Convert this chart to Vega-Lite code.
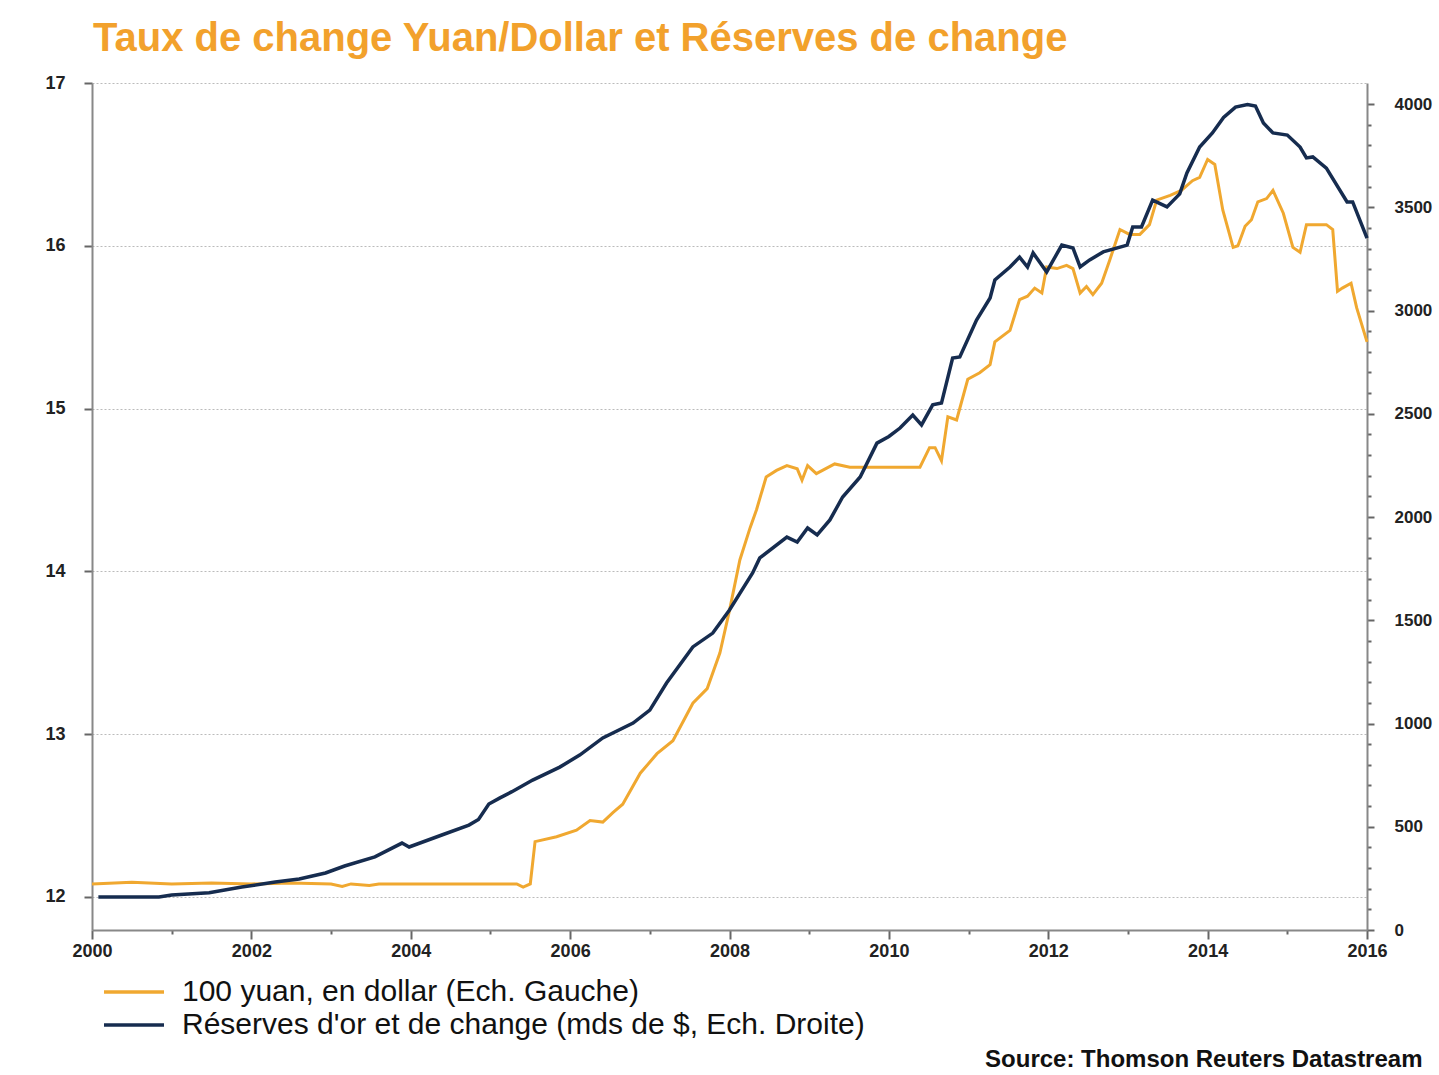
{
  "$schema": "https://vega.github.io/schema/vega-lite/v6.json",
  "width": 1275,
  "height": 847,
  "autosize": {"type": "none"},
  "padding": {"left": 92, "top": 83, "right": 72, "bottom": 145},
  "background": "white",
  "config": {
    "view": {"stroke": null},
    "font": "Liberation Sans"
  },
  "title": {
    "text": "Taux de change Yuan/Dollar et Réserves de change",
    "anchor": "start",
    "frame": "group",
    "font": "Liberation Sans",
    "fontSize": 40,
    "fontWeight": "bold",
    "color": "#F2A12C",
    "baseline": "alphabetic",
    "offset": 33,
    "dx": 1,
    "dy": 50
  },
  "datasets": {
    "yuan": [
      {"t": 2000.0, "v": 12.08}, {"t": 2000.5, "v": 12.09}, {"t": 2001.0, "v": 12.08}, {"t": 2001.5, "v": 12.085},
      {"t": 2002.0, "v": 12.08}, {"t": 2002.5, "v": 12.085}, {"t": 2003.0, "v": 12.08}, {"t": 2003.14, "v": 12.065},
      {"t": 2003.25, "v": 12.08}, {"t": 2003.48, "v": 12.07}, {"t": 2003.6, "v": 12.08}, {"t": 2004.0, "v": 12.08},
      {"t": 2004.5, "v": 12.08}, {"t": 2005.0, "v": 12.08}, {"t": 2005.33, "v": 12.08}, {"t": 2005.41, "v": 12.06},
      {"t": 2005.5, "v": 12.08}, {"t": 2005.56, "v": 12.34}, {"t": 2005.83, "v": 12.37}, {"t": 2006.08, "v": 12.41},
      {"t": 2006.25, "v": 12.47}, {"t": 2006.41, "v": 12.46}, {"t": 2006.54, "v": 12.52}, {"t": 2006.66, "v": 12.57},
      {"t": 2006.88, "v": 12.76}, {"t": 2007.09, "v": 12.88}, {"t": 2007.29, "v": 12.96}, {"t": 2007.54, "v": 13.19},
      {"t": 2007.72, "v": 13.28}, {"t": 2007.88, "v": 13.5}, {"t": 2008.0, "v": 13.76}, {"t": 2008.13, "v": 14.07},
      {"t": 2008.26, "v": 14.27}, {"t": 2008.34, "v": 14.38}, {"t": 2008.46, "v": 14.58}, {"t": 2008.59, "v": 14.62},
      {"t": 2008.72, "v": 14.65}, {"t": 2008.85, "v": 14.63}, {"t": 2008.91, "v": 14.56}, {"t": 2008.98, "v": 14.65},
      {"t": 2009.09, "v": 14.6}, {"t": 2009.32, "v": 14.66}, {"t": 2009.51, "v": 14.64}, {"t": 2010.0, "v": 14.64},
      {"t": 2010.39, "v": 14.64}, {"t": 2010.51, "v": 14.76}, {"t": 2010.58, "v": 14.76}, {"t": 2010.66, "v": 14.68},
      {"t": 2010.74, "v": 14.95}, {"t": 2010.85, "v": 14.93}, {"t": 2010.99, "v": 15.18}, {"t": 2011.14, "v": 15.22},
      {"t": 2011.27, "v": 15.27}, {"t": 2011.33, "v": 15.41}, {"t": 2011.52, "v": 15.48}, {"t": 2011.64, "v": 15.67},
      {"t": 2011.74, "v": 15.69}, {"t": 2011.83, "v": 15.74}, {"t": 2011.92, "v": 15.71}, {"t": 2011.98, "v": 15.87},
      {"t": 2012.11, "v": 15.86}, {"t": 2012.23, "v": 15.88}, {"t": 2012.31, "v": 15.86}, {"t": 2012.4, "v": 15.71},
      {"t": 2012.48, "v": 15.75}, {"t": 2012.56, "v": 15.7}, {"t": 2012.67, "v": 15.77}, {"t": 2012.77, "v": 15.91},
      {"t": 2012.9, "v": 16.1}, {"t": 2013.02, "v": 16.07}, {"t": 2013.15, "v": 16.07}, {"t": 2013.27, "v": 16.13},
      {"t": 2013.36, "v": 16.28}, {"t": 2013.53, "v": 16.31}, {"t": 2013.67, "v": 16.34}, {"t": 2013.81, "v": 16.4},
      {"t": 2013.9, "v": 16.42}, {"t": 2014.0, "v": 16.53}, {"t": 2014.09, "v": 16.5}, {"t": 2014.19, "v": 16.22},
      {"t": 2014.32, "v": 15.99}, {"t": 2014.38, "v": 16.0}, {"t": 2014.47, "v": 16.12}, {"t": 2014.55, "v": 16.16},
      {"t": 2014.63, "v": 16.27}, {"t": 2014.74, "v": 16.29}, {"t": 2014.82, "v": 16.34}, {"t": 2014.95, "v": 16.2},
      {"t": 2015.07, "v": 15.99}, {"t": 2015.16, "v": 15.96}, {"t": 2015.24, "v": 16.13}, {"t": 2015.49, "v": 16.13},
      {"t": 2015.57, "v": 16.1}, {"t": 2015.63, "v": 15.72}, {"t": 2015.69, "v": 15.74}, {"t": 2015.8, "v": 15.77},
      {"t": 2015.87, "v": 15.62}, {"t": 2016.0, "v": 15.41}
    ],
    "reserves": [
      {"t": 2000.08, "v": 160}, {"t": 2000.84, "v": 160}, {"t": 2001.0, "v": 170}, {"t": 2001.47, "v": 180},
      {"t": 2001.88, "v": 208}, {"t": 2002.3, "v": 232}, {"t": 2002.6, "v": 247}, {"t": 2002.93, "v": 276},
      {"t": 2003.17, "v": 310}, {"t": 2003.55, "v": 354}, {"t": 2003.89, "v": 421}, {"t": 2003.98, "v": 402},
      {"t": 2004.39, "v": 460}, {"t": 2004.73, "v": 508}, {"t": 2004.85, "v": 535}, {"t": 2004.98, "v": 610},
      {"t": 2005.12, "v": 640}, {"t": 2005.27, "v": 670}, {"t": 2005.53, "v": 726}, {"t": 2005.87, "v": 789},
      {"t": 2006.12, "v": 847}, {"t": 2006.41, "v": 930}, {"t": 2006.79, "v": 1002}, {"t": 2007.0, "v": 1065},
      {"t": 2007.21, "v": 1196}, {"t": 2007.54, "v": 1371}, {"t": 2007.79, "v": 1438}, {"t": 2008.0, "v": 1550},
      {"t": 2008.29, "v": 1729}, {"t": 2008.38, "v": 1802}, {"t": 2008.72, "v": 1903}, {"t": 2008.85, "v": 1879},
      {"t": 2008.98, "v": 1947}, {"t": 2009.1, "v": 1913}, {"t": 2009.26, "v": 1986}, {"t": 2009.42, "v": 2097},
      {"t": 2009.64, "v": 2194}, {"t": 2009.85, "v": 2358}, {"t": 2010.0, "v": 2390}, {"t": 2010.14, "v": 2431},
      {"t": 2010.3, "v": 2494}, {"t": 2010.41, "v": 2446}, {"t": 2010.55, "v": 2543}, {"t": 2010.66, "v": 2552},
      {"t": 2010.8, "v": 2770}, {"t": 2010.89, "v": 2775}, {"t": 2011.1, "v": 2954}, {"t": 2011.27, "v": 3061},
      {"t": 2011.33, "v": 3148}, {"t": 2011.52, "v": 3211}, {"t": 2011.64, "v": 3259}, {"t": 2011.74, "v": 3211},
      {"t": 2011.81, "v": 3279}, {"t": 2011.98, "v": 3187}, {"t": 2012.17, "v": 3317}, {"t": 2012.31, "v": 3303},
      {"t": 2012.4, "v": 3211}, {"t": 2012.52, "v": 3245}, {"t": 2012.69, "v": 3284}, {"t": 2012.99, "v": 3317},
      {"t": 2013.06, "v": 3405}, {"t": 2013.17, "v": 3405}, {"t": 2013.31, "v": 3535}, {"t": 2013.49, "v": 3502},
      {"t": 2013.65, "v": 3565}, {"t": 2013.74, "v": 3666}, {"t": 2013.9, "v": 3792}, {"t": 2014.06, "v": 3860},
      {"t": 2014.2, "v": 3935}, {"t": 2014.35, "v": 3985}, {"t": 2014.5, "v": 3998}, {"t": 2014.6, "v": 3990},
      {"t": 2014.7, "v": 3908}, {"t": 2014.82, "v": 3860}, {"t": 2015.0, "v": 3850}, {"t": 2015.16, "v": 3792},
      {"t": 2015.24, "v": 3739}, {"t": 2015.32, "v": 3744}, {"t": 2015.49, "v": 3690}, {"t": 2015.75, "v": 3526},
      {"t": 2015.82, "v": 3526}, {"t": 2016.0, "v": 3351}
    ]
  },
  "layer": [
    {
      "data": {"name": "yuan"},
      "mark": {"type": "line", "strokeWidth": 3, "interpolate": "linear"},
      "encoding": {
        "x": {
          "field": "t", "type": "quantitative",
          "scale": {"domain": [2000, 2016], "nice": false, "zero": false},
          "axis": {
            "values": [2000,2000.25,2000.5,2000.75,2001,2001.25,2001.5,2001.75,2002,2002.25,2002.5,2002.75,2003,2003.25,2003.5,2003.75,2004,2004.25,2004.5,2004.75,2005,2005.25,2005.5,2005.75,2006,2006.25,2006.5,2006.75,2007,2007.25,2007.5,2007.75,2008,2008.25,2008.5,2008.75,2009,2009.25,2009.5,2009.75,2010,2010.25,2010.5,2010.75,2011,2011.25,2011.5,2011.75,2012,2012.25,2012.5,2012.75,2013,2013.25,2013.5,2013.75,2014,2014.25,2014.5,2014.75,2015,2015.25,2015.5,2015.75,2016],
            "format": "d",
            "labelExpr": "datum.value % 2 == 0 ? datum.label : ''",
            "labelOverlap": false,
            "labelFont": "Liberation Sans",
            "labelFontWeight": "bold",
            "labelFontSize": 18,
            "labelColor": "#222222",
            "labelPadding": 3,
            "labelFlush": false,
            "tickSize": {"condition": {"test": "datum.value % 2 == 0", "value": 9}, "value": 4},
            "tickColor": "#666666",
            "tickWidth": 2,
            "domainColor": "#888888",
            "domainWidth": 2,
            "grid": false,
            "title": "Source: Thomson Reuters Datastream",
            "titleFont": "Liberation Sans",
            "titleFontSize": 24,
            "titleFontWeight": "bold",
            "titleColor": "#111111",
            "titleAlign": "right",
            "titleAnchor": "end",
            "titleBaseline": "alphabetic",
            "titleX": 1330,
            "titleY": 136
          }
        },
        "y": {
          "field": "v", "type": "quantitative",
          "scale": {"domain": [11.797, 17], "nice": false, "zero": false},
          "axis": {
            "orient": "left",
            "values": [12, 13, 14, 15, 16, 17],
            "format": "d",
            "labelFont": "Liberation Sans",
            "labelFontWeight": "bold",
            "labelFontSize": 18,
            "labelColor": "#222222",
            "labelPadding": 19,
            "tickSize": 8,
            "tickColor": "#666666",
            "tickWidth": 2,
            "domainColor": "#888888",
            "domainWidth": 2,
            "grid": true,
            "gridColor": "#BBBBBB",
            "gridDash": [2, 2],
            "gridWidth": 1,
            "title": null
          }
        },
        "color": {
          "datum": "100 yuan, en dollar (Ech. Gauche)",
          "type": "nominal",
          "scale": {
            "domain": ["100 yuan, en dollar (Ech. Gauche)", "Réserves d'or et de change (mds de $, Ech. Droite)"],
            "range": ["#F0A830", "#162C4F"]
          },
          "legend": {
            "orient": "none",
            "legendX": 25,
            "legendY": 892,
            "title": null,
            "symbolType": "M-2,0H2",
            "symbolSize": 900,
            "symbolStrokeWidth": 3.5,
            "symbolFillColor": "transparent",
            "labelFont": "Liberation Sans",
            "labelFontSize": 30,
            "labelColor": "#111111",
            "labelOffset": 31,
            "labelLimit": 900,
            "rowPadding": 1,
            "padding": 0
          }
        }
      }
    },
    {
      "data": {"name": "reserves"},
      "mark": {"type": "line", "strokeWidth": 3.5, "interpolate": "linear"},
      "encoding": {
        "x": {"field": "t", "type": "quantitative"},
        "y": {
          "field": "v", "type": "quantitative",
          "scale": {"domain": [0, 4102], "nice": false, "zero": true},
          "axis": {
            "orient": "right",
            "values": [0,100,200,300,400,500,600,700,800,900,1000,1100,1200,1300,1400,1500,1600,1700,1800,1900,2000,2100,2200,2300,2400,2500,2600,2700,2800,2900,3000,3100,3200,3300,3400,3500,3600,3700,3800,3900,4000],
            "format": "d",
            "labelExpr": "datum.value % 500 == 0 ? datum.label : ''",
            "labelOverlap": false,
            "labelFont": "Liberation Sans",
            "labelFontWeight": "bold",
            "labelFontSize": 17,
            "labelColor": "#222222",
            "labelPadding": 20,
            "tickSize": {"condition": {"test": "datum.value % 500 == 0", "value": 7}, "value": 4},
            "tickColor": "#666666",
            "tickWidth": 2,
            "domainColor": "#888888",
            "domainWidth": 2,
            "grid": false,
            "title": null
          }
        },
        "color": {"datum": "Réserves d'or et de change (mds de $, Ech. Droite)", "type": "nominal"}
      }
    }
  ],
  "resolve": {"scale": {"y": "independent"}}
}
